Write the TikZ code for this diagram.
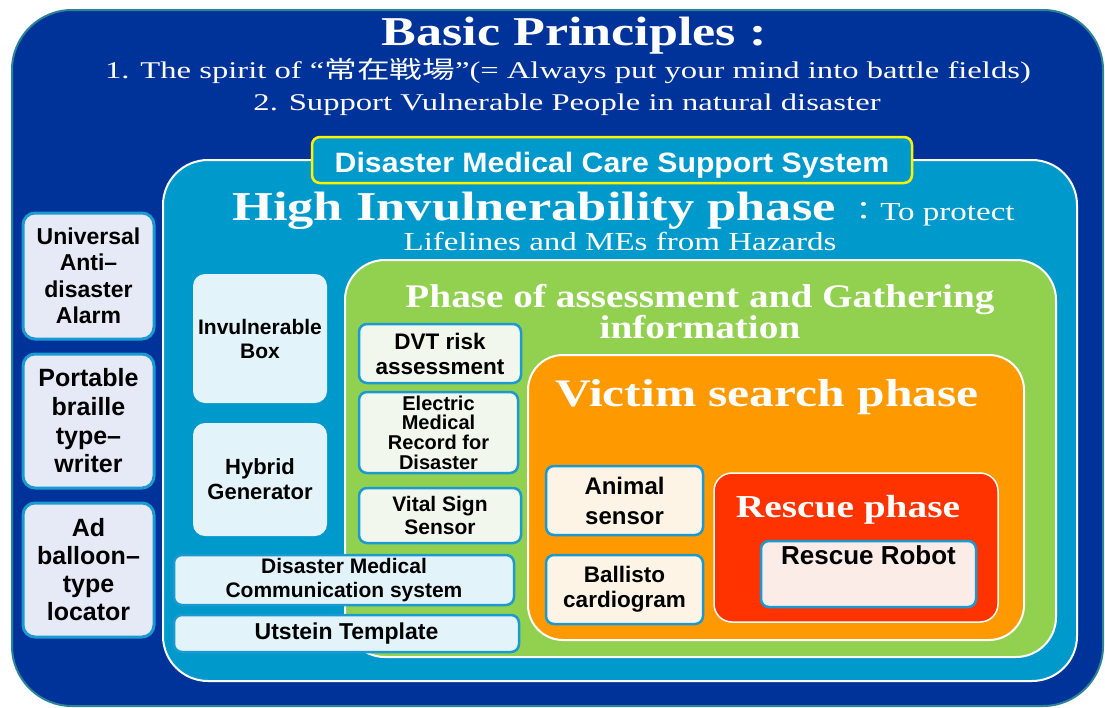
\documentclass[tikz,border=0pt]{standalone}
\usepackage{fontspec}
\setmainfont{Liberation Serif}
\setsansfont{Liberation Sans}
\newfontfamily\cjk{Noto Sans CJK JP}
\usetikzlibrary{positioning}

\definecolor{navyblue}{HTML}{003399}
\definecolor{navyedge}{HTML}{2A8496}
\definecolor{skyblue}{HTML}{0099CC}
\definecolor{leafgreen}{HTML}{92D050}
\definecolor{amber}{HTML}{FF9900}
\definecolor{flame}{HTML}{FF3300}
\definecolor{boxedge}{HTML}{1B9AD2}
\definecolor{lavfill}{HTML}{E6EAF6}
\definecolor{icefill}{HTML}{E3F3FA}
\definecolor{mintfill}{HTML}{F1F7EC}
\definecolor{creamfill}{HTML}{FDF4E6}
\definecolor{rosefill}{HTML}{FCECE8}

\tikzset{
  panel/.style={line width=2pt, draw=white},
  sidebox/.style={draw=boxedge, line width=3pt, fill=lavfill, rounded corners=12pt,
    align=center, inner sep=0pt, font=\sffamily\bfseries},
  plainbox/.style={fill=icefill, rounded corners=12pt, align=center, inner sep=0pt,
    font=\sffamily\bfseries},
  greenbox/.style={draw=boxedge, line width=2.5pt, fill=mintfill, rounded corners=8pt,
    align=center, inner sep=0pt, font=\sffamily\bfseries},
  wideboxx/.style={draw=boxedge, line width=2.5pt, fill=icefill, rounded corners=8pt,
    align=center, inner sep=0pt, font=\sffamily\bfseries},
  orangebox/.style={draw=boxedge, line width=2.5pt, fill=creamfill, rounded corners=8pt,
    align=center, inner sep=0pt, font=\sffamily\bfseries},
  headtext/.style={text=white, inner sep=0pt, anchor=base},
  wide/.style={xscale=#1, transform shape},
}

\begin{document}
\begin{tikzpicture}[x=1pt, y=-1pt]
    %%%%% START %%%%%
    \useasboundingbox (0,0) rectangle (1105,707);
    
    % outer panel
    \draw[line width=2pt, draw=navyedge, fill=navyblue, rounded corners=60pt] (12,10) rectangle (1103,706);
    \node[headtext, wide=1.27, font=\fontsize{41}{41}\selectfont\bfseries] (basic) at (574,45) {Basic Principles :};
    \node[headtext, wide=1.36, font=\fontsize{24}{24}\selectfont] (spirit) at (568,78) {1. The spirit of “{\cjk 常在戦場}”(= Always put your mind into battle fields)};
    \node[headtext, wide=1.36, font=\fontsize{24}{24}\selectfont] (support) at (567,110) {2. Support Vulnerable People in natural disaster};
    
    % left column
    \node[sidebox, minimum width=131pt, minimum height=126pt, font=\fontsize{23}{26.5}\selectfont\sffamily\bfseries] (alarm) at (88.5,276) {Universal\\Anti–\\disaster\\Alarm};
    \node[sidebox, minimum width=131pt, minimum height=134pt, font=\fontsize{25}{28.7}\selectfont\sffamily\bfseries] (braille) at (88.5,421) {Portable\\braille\\type–\\writer};
    \node[sidebox, minimum width=131pt, minimum height=134pt, font=\fontsize{25}{28}\selectfont\sffamily\bfseries] (balloon) at (88.5,570) {Ad\\balloon–\\type\\locator};
    
    % high invulnerability phase
    \draw[panel, fill=skyblue, rounded corners=45pt] (163,160) rectangle (1077,681);
    \node[draw=yellow, line width=2.5pt, fill=skyblue, rounded corners=8pt, minimum width=600pt, minimum height=46pt, inner sep=0pt] (tab) at (612,160) {};
    \node[headtext, wide=1.08, font=\fontsize{28}{28}\selectfont\sffamily\bfseries] (system) at (612,172) {Disaster Medical Care Support System};
    \node[headtext, anchor=base west, wide=1.28, font=\fontsize{41}{41}\selectfont\bfseries] (high) at (232,220) {High Invulnerability phase};
    \node[headtext, anchor=base west, wide=1.27, font=\fontsize{26}{26}\selectfont] (protect) at (847,220) {{\cjk ：}To protect};
    \node[headtext, wide=1.27, font=\fontsize{26}{26}\selectfont] (lifelines) at (620,250) {Lifelines and MEs from Hazards};
    
    \node[plainbox, minimum width=134pt, minimum height=129pt, font=\fontsize{21}{24}\selectfont\sffamily\bfseries] (invbox) at (260,338.5) {Invulnerable\\Box};
    \node[plainbox, minimum width=134pt, minimum height=113pt, font=\fontsize{22}{25}\selectfont\sffamily\bfseries] (hybrid) at (260,479.5) {Hybrid\\Generator};
    
    % assessment phase
    \draw[panel, fill=leafgreen, rounded corners=40pt] (345,260) rectangle (1056,657);
    \node[headtext, wide=1.19, font=\fontsize{33}{33}\selectfont\bfseries] (assess) at (700,307) {Phase of assessment and Gathering};
    \node[headtext, wide=1.19, font=\fontsize{33}{33}\selectfont\bfseries] (info) at (700,338) {information};
    
    \node[greenbox, minimum width=162pt, minimum height=59pt, font=\fontsize{22.5}{25}\selectfont\sffamily\bfseries] (dvt) at (440,353.5) {DVT risk\\assessment};
    \node[greenbox, minimum width=159pt, minimum height=81pt, font=\fontsize{20}{19.7}\selectfont\sffamily\bfseries] (emr) at (438.5,432.5) {Electric\\Medical\\Record for\\Disaster};
    \node[greenbox, minimum width=162pt, minimum height=55pt, font=\fontsize{21}{23}\selectfont\sffamily\bfseries] (vital) at (440,515.5) {Vital Sign\\Sensor};
    \node[wideboxx, minimum width=340pt, minimum height=50pt, font=\fontsize{21}{24}\selectfont\sffamily\bfseries] (comm) at (344,580) {Disaster Medical\\Communication system};
    \node[wideboxx, minimum width=345pt, minimum height=37pt, font=\fontsize{23}{23}\selectfont\sffamily\bfseries] (utstein) at (346.5,633.5) {Utstein Template};
    
    % victim search phase
    \draw[panel, fill=amber, rounded corners=35pt] (528,355) rectangle (1024,640);
    \node[headtext, wide=1.27, font=\fontsize{39}{39}\selectfont\bfseries] (victim) at (767,406) {Victim search phase};
    \node[orangebox, minimum width=157pt, minimum height=69pt, font=\fontsize{24}{30}\selectfont\sffamily\bfseries] (animal) at (624.5,500.5) {Animal\\sensor};
    \node[orangebox, minimum width=157pt, minimum height=69pt, font=\fontsize{22.5}{25}\selectfont\sffamily\bfseries] (ballisto) at (624.5,589.5) {Ballisto\\cardiogram};
    
    % rescue phase
    \draw[line width=1.5pt, draw=white, fill=flame, rounded corners=18pt] (714,473) rectangle (998,622);
    \node[headtext, wide=1.23, font=\fontsize{32}{32}\selectfont\bfseries] (rescue) at (848,517) {Rescue phase};
    \node[draw=boxedge, line width=2.5pt, fill=rosefill, rounded corners=8pt, minimum width=215pt, minimum height=66pt, inner sep=0pt] (robot) at (868.5,574) {};
    \node[inner sep=0pt, below=6pt of robot.north, font=\fontsize{26}{26}\selectfont\sffamily\bfseries] (robotlbl) {Rescue Robot};
    
    %%%%% END %%%%%
\end{tikzpicture}
\end{document}
